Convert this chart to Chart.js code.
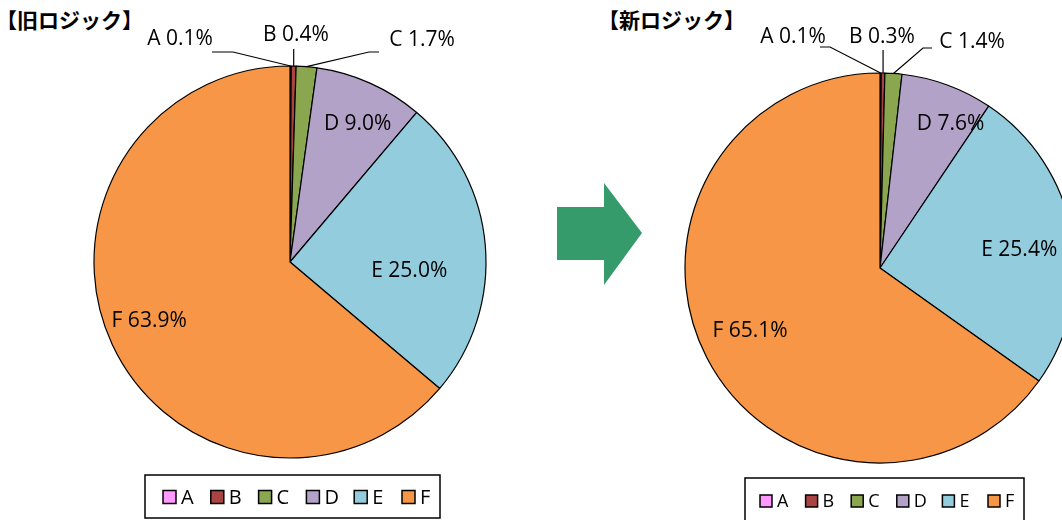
<!DOCTYPE html>
<html>
<head>
<meta charset="utf-8">
<script src="https://cdn.jsdelivr.net/npm/chart.js@4.4.0/dist/chart.umd.min.js"></script>
<style>
  html, body { margin: 0; padding: 0; background: #fff; }
  #wrap { position: relative; width: 1062px; height: 520px; overflow: hidden; }
  canvas { position: absolute; top: 0; }
  .title { position: absolute; top: 4px; font-family: "Noto Sans CJK JP"; font-weight: bold; font-size: 21px; color: #000; white-space: nowrap; }
  svg { position: absolute; left: 0; top: 0; }
</style>
</head>
<body>
<div id="wrap">
  <div class="title" style="left:-4px">【旧ロジック】</div>
  <div class="title" style="left:598px">【新ロジック】</div>
  <svg width="1062" height="520">
    <polygon points="557,207 604,207 604,183 642,233 604,285 604,260 557,260" fill="#369b6a"/>
  </svg>
  <canvas id="oldChart" width="560" height="520" style="left:0px"></canvas>
  <canvas id="newChart" width="640" height="520" style="left:560px"></canvas>
</div>
<script>
// categories and values (percent)
var categories = ["A", "B", "C", "D", "E", "F"];
var oldValues  = [0.1, 0.4, 1.7, 9.0, 25.0, 63.9];
var newValues  = [0.1, 0.3, 1.4, 7.6, 25.4, 65.1];
var sliceColors = ["#ff99ff", "#a94442", "#8aa64e", "#b3a2c7", "#93cddd", "#f79646"];

var FONT = "\"Open Sans\", \"Noto Sans\", sans-serif";

// draws the value labels, leader lines and a boxed legend
var pieExtras = {
  id: "pieExtras",
  afterDatasetsDraw: function(chart, args, opts) {
    var ctx = chart.ctx;
    var meta = chart.getDatasetMeta(0);
    var values = chart.data.datasets[0].data;
    ctx.save();
    ctx.fillStyle = "#000";
    ctx.font = opts.fontSize + "px " + FONT;
    ctx.textAlign = "center";
    ctx.textBaseline = "middle";

    meta.data.forEach(function(arc, i) {
      var p = arc.getProps(["x", "y", "startAngle", "endAngle", "outerRadius"], true);
      var mid = (p.startAngle + p.endAngle) / 2;
      var text = categories[i] + " " + values[i].toFixed(1) + "%";
      var inside = opts.inside[i];
      if (inside) {
        var a = mid + inside.da * Math.PI / 180;
        ctx.fillText(text, p.x + Math.cos(a) * p.outerRadius * inside.f,
                           p.y + Math.sin(a) * p.outerRadius * inside.f);
        return;
      }
      var c = opts.callouts[i];
      if (!c) return;
      var ax = p.x + Math.cos(mid) * p.outerRadius;
      var ay = p.y + Math.sin(mid) * p.outerRadius;
      ctx.beginPath();
      ctx.strokeStyle = "#000";
      ctx.lineWidth = 1.2;
      if (c.lx == null) {
        ctx.moveTo(ax, c.ly);
      } else {
        ctx.moveTo(c.lx, c.ly);
        ctx.lineTo(c.ex, c.ly);
      }
      ctx.lineTo(ax, ay);
      ctx.stroke();
      ctx.fillText(text, c.tx, c.ty);
    });

    // legend
    var lg = opts.legend;
    ctx.lineWidth = 1.5;
    ctx.strokeStyle = "#000";
    ctx.strokeRect(lg.x, lg.y, lg.w, lg.h);
    ctx.font = lg.fontSize + "px " + FONT;
    ctx.textAlign = "left";
    chart.data.labels.forEach(function(lab, i) {
      var bx = lg.first + i * lg.step;
      ctx.fillStyle = chart.data.datasets[0].backgroundColor[i];
      ctx.fillRect(bx, lg.cy - lg.box / 2, lg.box, lg.box);
      ctx.lineWidth = 1.5;
      ctx.strokeRect(bx, lg.cy - lg.box / 2, lg.box, lg.box);
      ctx.fillStyle = "#000";
      ctx.fillText(lab, bx + lg.box + 5, lg.cy + 1);
    });
    ctx.restore();
  }
};

function makePie(id, values, radius, padding, extras) {
  return new Chart(document.getElementById(id), {
    type: "pie",
    data: {
      labels: categories,
      datasets: [{
        data: values,
        backgroundColor: sliceColors,
        borderColor: "#000",
        borderWidth: 1.2
      }]
    },
    options: {
      responsive: false,
      animation: false,
      radius: radius,
      layout: { padding: padding },
      plugins: {
        legend: { display: false },
        tooltip: { enabled: false },
        pieExtras: extras
      }
    },
    plugins: [pieExtras]
  });
}

makePie("oldChart", oldValues, 196, { left: 20, right: 0, top: 4, bottom: 0 }, {
  fontSize: 21,
  inside: [null, null, null, { f: 0.785, da: 2 }, { f: 0.61, da: 9 }, { f: 0.78, da: 2 }],
  callouts: [
    { tx: 180, ty: 39, lx: 212, ly: 52, ex: 233 },
    { tx: 296, ty: 35, lx: null, ly: 49 },
    { tx: 422, ty: 40, lx: 379, ly: 52, ex: 369 }
  ],
  legend: { x: 145, y: 475, w: 295, h: 43, first: 163, step: 47.8, box: 13, cy: 497, fontSize: 20 }
});

makePie("newChart", newValues, 195, { left: 0, right: 0, top: 16, bottom: 0 }, {
  fontSize: 21,
  inside: [null, null, null, { f: 0.82, da: 6 }, { f: 0.72, da: 3 }, { f: 0.74, da: 1.5 }],
  callouts: [
    { tx: 233, ty: 37, lx: 260, ly: 47, ex: 270 },
    { tx: 322, ty: 37, lx: null, ly: 50 },
    { tx: 412, ty: 42, lx: 372, ly: 48, ex: 363 }
  ],
  legend: { x: 185, y: 478, w: 279, h: 50, first: 200, step: 45.6, box: 12, cy: 501, fontSize: 18 }
});
</script>
</body>
</html>
